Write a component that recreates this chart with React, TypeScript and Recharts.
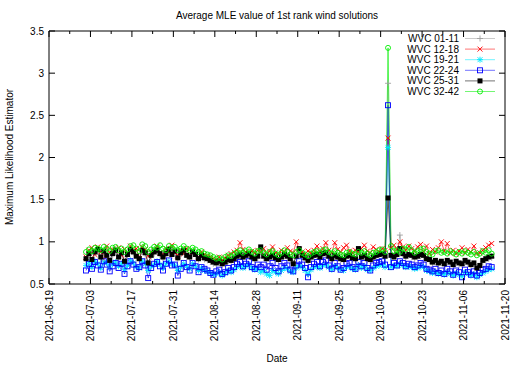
import { LineChart, Line, XAxis, YAxis, ReferenceArea } from "recharts"

// day 0 = 2021-06-19, samples are daily (noon) from 2021-07-01
const START = Date.UTC(2021, 5, 19)
const FIRST_DAY = 12.5

const X_TICKS = [0, 7, 14, 21, 28, 35, 42, 49, 56, 63, 70, 77, 84, 91, 98, 105, 112, 119, 126, 133, 140, 147, 154]
const Y_TICKS = [0.5, 1, 1.5, 2, 2.5, 3, 3.5]

const wvc0111 = [
  0.79, 0.84, 0.78, 0.86, 0.88, 0.80, 0.87, 0.82, 0.77, 0.84,
  0.88, 0.80, 0.85, 0.76, 0.83, 0.89, 0.86, 0.81, 0.79, 0.88,
  0.85, 0.74, 0.82, 0.86, 0.88, 0.84, 0.80, 0.84, 0.89, 0.83,
  0.87, 0.80, 0.85, 0.88, 0.82, 0.81, 0.86, 0.83, 0.79, 0.82,
  0.79, 0.78, 0.76, 0.74, 0.73, 0.75, 0.72, 0.74, 0.77, 0.76,
  0.78, 0.81, 0.83, 0.80, 0.82, 0.84, 0.80, 0.78, 0.81, 0.88,
  0.81, 0.78, 0.80, 0.82, 0.79, 0.77, 0.80, 0.83, 0.81, 0.78,
  0.75, 0.81, 0.88, 0.82, 0.79, 0.76, 0.80, 0.82, 0.83, 0.80,
  0.84, 0.85, 0.81, 0.78, 0.82, 0.80, 0.78, 0.77, 0.81, 0.82,
  0.79, 0.78, 0.88, 0.80, 0.82, 0.78, 0.77, 0.80, 0.82, 0.83,
  0.84, 0.81, 2.88, 0.86, 0.83, 0.84, 1.08, 0.85, 0.82, 0.84,
  0.82, 0.80, 0.81, 0.83, 0.82, 0.78, 0.77, 0.74, 0.76, 0.73,
  0.75, 0.72, 0.76, 0.74, 0.71, 0.75, 0.73, 0.72, 0.76, 0.74,
  0.71, 0.73, 0.68, 0.70, 0.76, 0.78, 0.80, 0.81,
]

const wvc1218 = [
  0.82, 0.90, 0.93, 0.85, 0.94, 0.88, 0.79, 0.95, 0.87, 0.91,
  0.89, 0.93, 0.84, 0.91, 0.86, 0.95, 0.90, 0.92, 0.80, 0.94,
  0.91, 0.83, 0.88, 0.90, 0.95, 0.87, 0.85, 0.92, 0.88, 0.96,
  0.87, 0.84, 0.90, 0.86, 0.92, 0.83, 0.89, 0.85, 0.82, 0.88,
  0.85, 0.83, 0.82, 0.80, 0.79, 0.82, 0.78, 0.81, 0.84, 0.86,
  0.88, 0.90, 0.99, 0.91, 0.88, 0.86, 0.89, 0.87, 0.90, 0.88,
  0.92, 0.86, 0.89, 0.94, 0.87, 0.85, 0.90, 0.88, 0.93, 0.89,
  0.87, 1.00, 0.91, 0.88, 0.86, 0.89, 0.87, 0.90, 0.95, 0.88,
  0.92, 0.99, 0.90, 0.87, 0.99, 0.91, 0.88, 0.93, 0.96, 0.89,
  0.87, 0.90, 0.88, 0.92, 0.96, 0.89, 0.87, 0.94, 0.91, 0.88,
  0.92, 0.90, 2.23, 0.93, 0.96, 0.91, 1.00, 0.94, 0.90, 0.95,
  0.92, 0.89, 0.94, 0.97, 0.88, 0.95, 0.86, 0.91, 0.88, 0.93,
  1.00, 0.89, 0.98, 0.87, 0.90, 0.86, 0.89, 0.93, 0.87, 0.91,
  0.88, 0.95, 0.86, 0.87, 0.90, 0.93, 0.96, 0.98,
]

const wvc1921 = [
  0.72, 0.76, 0.70, 0.77, 0.74, 0.69, 0.76, 0.75, 0.70, 0.74,
  0.76, 0.71, 0.74, 0.67, 0.72, 0.78, 0.75, 0.70, 0.69, 0.77,
  0.74, 0.66, 0.71, 0.73, 0.77, 0.73, 0.69, 0.74, 0.77, 0.74,
  0.72, 0.66, 0.70, 0.74, 0.71, 0.68, 0.74, 0.71, 0.66, 0.69,
  0.66, 0.65, 0.63, 0.61, 0.62, 0.64, 0.60, 0.63, 0.66, 0.64,
  0.67, 0.70, 0.72, 0.69, 0.71, 0.73, 0.69, 0.67, 0.68, 0.64,
  0.66, 0.62, 0.60, 0.66, 0.64, 0.62, 0.66, 0.69, 0.68, 0.65,
  0.64, 0.69, 0.72, 0.70, 0.66, 0.62, 0.67, 0.70, 0.71, 0.69,
  0.72, 0.73, 0.70, 0.67, 0.71, 0.69, 0.67, 0.66, 0.70, 0.71,
  0.68, 0.67, 0.72, 0.69, 0.71, 0.67, 0.66, 0.69, 0.71, 0.72,
  0.73, 0.70, 2.12, 0.70, 0.72, 0.71, 0.74, 0.72, 0.70, 0.71,
  0.70, 0.68, 0.69, 0.71, 0.70, 0.66, 0.65, 0.63, 0.64, 0.62,
  0.63, 0.61, 0.64, 0.62, 0.60, 0.63, 0.61, 0.59, 0.64, 0.62,
  0.60, 0.62, 0.58, 0.61, 0.63, 0.65, 0.67, 0.68,
]

const wvc2224 = [
  0.66, 0.74, 0.68, 0.76, 0.72, 0.67, 0.77, 0.73, 0.65, 0.71,
  0.75, 0.69, 0.74, 0.62, 0.71, 0.77, 0.73, 0.68, 0.70, 0.77,
  0.72, 0.57, 0.69, 0.74, 0.76, 0.71, 0.66, 0.74, 0.78, 0.72,
  0.73, 0.60, 0.68, 0.75, 0.70, 0.66, 0.75, 0.71, 0.64, 0.70,
  0.68, 0.66, 0.63, 0.61, 0.65, 0.67, 0.62, 0.64, 0.69, 0.66,
  0.70, 0.74, 0.76, 0.71, 0.74, 0.77, 0.70, 0.68, 0.73, 0.70,
  0.73, 0.67, 0.71, 0.75, 0.69, 0.65, 0.71, 0.75, 0.72, 0.67,
  0.65, 0.72, 0.77, 0.73, 0.69, 0.58, 0.70, 0.74, 0.76, 0.71,
  0.76, 0.78, 0.72, 0.68, 0.75, 0.71, 0.67, 0.69, 0.74, 0.75,
  0.70, 0.68, 0.76, 0.71, 0.75, 0.69, 0.66, 0.72, 0.75, 0.76,
  0.77, 0.73, 2.62, 0.70, 0.75, 0.72, 0.77, 0.75, 0.71, 0.74,
  0.73, 0.70, 0.72, 0.75, 0.73, 0.68, 0.67, 0.65, 0.68, 0.63,
  0.66, 0.62, 0.68, 0.65, 0.61, 0.66, 0.64, 0.58, 0.67, 0.64,
  0.61, 0.65, 0.60, 0.63, 0.67, 0.68, 0.71, 0.70,
]

const wvc2531 = [
  0.80, 0.86, 0.79, 0.88, 0.91, 0.82, 0.89, 0.84, 0.78, 0.86,
  0.90, 0.82, 0.87, 0.77, 0.85, 0.91, 0.88, 0.83, 0.80, 0.90,
  0.87, 0.75, 0.84, 0.88, 0.90, 0.86, 0.82, 0.86, 0.91, 0.85,
  0.89, 0.81, 0.87, 0.90, 0.84, 0.82, 0.88, 0.85, 0.80, 0.84,
  0.81, 0.80, 0.78, 0.76, 0.75, 0.77, 0.74, 0.76, 0.79, 0.78,
  0.80, 0.83, 0.85, 0.82, 0.84, 0.86, 0.82, 0.80, 0.83, 0.94,
  0.83, 0.80, 0.82, 0.84, 0.81, 0.79, 0.82, 0.85, 0.83, 0.80,
  0.74, 0.83, 0.92, 0.84, 0.81, 0.78, 0.82, 0.84, 0.85, 0.82,
  0.86, 0.87, 0.83, 0.80, 0.84, 0.82, 0.80, 0.79, 0.83, 0.84,
  0.81, 0.80, 0.92, 0.82, 0.84, 0.80, 0.79, 0.82, 0.84, 0.85,
  0.86, 0.83, 1.52, 0.84, 0.82, 0.85, 0.92, 0.86, 0.83, 0.85,
  0.84, 0.82, 0.83, 0.85, 0.84, 0.80, 0.79, 0.76, 0.78, 0.75,
  0.77, 0.74, 0.78, 0.76, 0.73, 0.77, 0.75, 0.74, 0.78, 0.76,
  0.73, 0.75, 0.69, 0.72, 0.78, 0.80, 0.82, 0.83,
]

const wvc3242 = [
  0.88, 0.91, 0.89, 0.93, 0.92, 0.90, 0.94, 0.92, 0.89, 0.93,
  0.94, 0.90, 0.92, 0.88, 0.91, 0.95, 0.96, 0.92, 0.89, 0.97,
  0.95, 0.88, 0.91, 0.94, 0.93, 0.96, 0.92, 0.90, 0.95, 0.93,
  0.94, 0.90, 0.92, 0.95, 0.92, 0.90, 0.93, 0.91, 0.88, 0.89,
  0.86, 0.85, 0.84, 0.82, 0.80, 0.81, 0.79, 0.82, 0.84, 0.83,
  0.86, 0.88, 0.90, 0.87, 0.89, 0.91, 0.88, 0.86, 0.89, 0.90,
  0.87, 0.85, 0.88, 0.89, 0.86, 0.84, 0.87, 0.90, 0.88, 0.85,
  0.84, 0.88, 0.90, 0.87, 0.85, 0.83, 0.86, 0.88, 0.89, 0.87,
  0.90, 0.91, 0.88, 0.86, 0.89, 0.87, 0.85, 0.84, 0.87, 0.88,
  0.86, 0.85, 0.88, 0.87, 0.89, 0.86, 0.84, 0.87, 0.88, 0.90,
  0.91, 0.88, 3.30, 0.95, 0.89, 0.90, 0.88, 0.92, 0.91, 0.94,
  0.90, 0.87, 0.89, 0.91, 0.92, 0.88, 0.86, 0.85, 0.89, 0.90,
  0.87, 0.88, 0.86, 0.89, 0.87, 0.85, 0.88, 0.86, 0.89, 0.87,
  0.85, 0.88, 0.84, 0.86, 0.89, 0.87, 0.90, 0.86,
]

const SERIES = [
  { key: "wvc0111", name: "WVC 01-11", color: "#a0a0a0", shape: "plus", values: wvc0111 },
  { key: "wvc1218", name: "WVC 12-18", color: "#ff0000", shape: "cross", values: wvc1218 },
  { key: "wvc1921", name: "WVC 19-21", color: "#00e8ff", shape: "star", values: wvc1921 },
  { key: "wvc2224", name: "WVC 22-24", color: "#0000ff", shape: "box", values: wvc2224 },
  { key: "wvc2531", name: "WVC 25-31", color: "#000000", shape: "fbox", values: wvc2531 },
  { key: "wvc3242", name: "WVC 32-42", color: "#00ee00", shape: "circle", values: wvc3242 },
]

const data = wvc0111.map((_, i) => {
  const row: Record<string, number> = { day: FIRST_DAY + i }
  SERIES.forEach((s) => (row[s.key] = s.values[i]))
  return row
})

const FONT = "'Liberation Sans', Arial, sans-serif"
const PLOT_LEFT = 49
const PLOT_RIGHT = 505
const PLOT_TOP = 31
const PLOT_BOTTOM = 284

const dateLabel = (day: number) =>
  new Date(START + day * 86400000).toISOString().slice(0, 10)

function Marker({ shape, color, cx, cy }: any) {
  const s = 2.5
  if (cx == null || cy == null) return null
  const w = 0.9
  switch (shape) {
    case "plus":
      return (
        <g stroke={color} strokeWidth={w}>
          <line x1={cx - 3} y1={cy} x2={cx + 3} y2={cy} />
          <line x1={cx} y1={cy - 3} x2={cx} y2={cy + 3} />
        </g>
      )
    case "cross":
      return (
        <g stroke={color} strokeWidth={w}>
          <line x1={cx - s} y1={cy - s} x2={cx + s} y2={cy + s} />
          <line x1={cx - s} y1={cy + s} x2={cx + s} y2={cy - s} />
        </g>
      )
    case "star":
      return (
        <g stroke={color} strokeWidth={w}>
          <line x1={cx - 3} y1={cy} x2={cx + 3} y2={cy} />
          <line x1={cx} y1={cy - 3} x2={cx} y2={cy + 3} />
          <line x1={cx - s} y1={cy - s} x2={cx + s} y2={cy + s} />
          <line x1={cx - s} y1={cy + s} x2={cx + s} y2={cy - s} />
        </g>
      )
    case "box":
      return <rect x={cx - s} y={cy - s} width={2 * s} height={2 * s} fill="none" stroke={color} strokeWidth={w} />
    case "fbox":
      return <rect x={cx - s} y={cy - s} width={2 * s} height={2 * s} fill={color} />
    default:
      return <circle cx={cx} cy={cy} r={s} fill="none" stroke={color} strokeWidth={w} />
  }
}

const makeDot = (shape: string, color: string, key: string) => (props: any) =>
  <Marker key={`${key}-${props.index}`} shape={shape} color={color} cx={props.cx} cy={props.cy} />

function XTick({ x, y, payload }: any) {
  const v = payload.value as number
  const major = v % 14 === 0
  const len = major ? 6 : 3
  return (
    <g>
      <line x1={x} y1={PLOT_BOTTOM} x2={x} y2={PLOT_BOTTOM - len} stroke="#000" />
      <line x1={x} y1={PLOT_TOP} x2={x} y2={PLOT_TOP + len} stroke="#000" />
      {major && (
        <text
          x={x + 3.5}
          y={y}
          transform={`rotate(-90, ${x + 3.5}, ${y})`}
          textAnchor="end"
          fontSize={10}
          fontFamily={FONT}
          fill="#000"
        >
          {dateLabel(v)}
        </text>
      )}
    </g>
  )
}

function YTick({ x, y, payload }: any) {
  return (
    <g>
      <line x1={PLOT_LEFT} y1={y} x2={PLOT_LEFT + 6} y2={y} stroke="#000" />
      <line x1={PLOT_RIGHT} y1={y} x2={PLOT_RIGHT - 6} y2={y} stroke="#000" />
      <text x={x} y={y + 3.5} textAnchor="end" fontSize={10} fontFamily={FONT} fill="#000">
        {String(payload.value)}
      </text>
    </g>
  )
}

function Overlay() {
  return (
    <svg
      width={525}
      height={367}
      style={{ position: "absolute", left: 0, top: 0, pointerEvents: "none" }}
      fontFamily={FONT}
      fontSize={10}
    >
      <text x={277} y={18.5} textAnchor="middle">Average MLE value of 1st rank wind solutions</text>
      <text x={277} y={362} textAnchor="middle">Date</text>
      <text x={12.5} y={157} textAnchor="middle" transform="rotate(-90, 12.5, 157)">
        Maximum Likelihood Estimator
      </text>
      {SERIES.map((s, i) => {
        const cy = 38.5 + i * 10.6
        return (
          <g key={s.key}>
            <text x={459} y={cy + 3.5} textAnchor="end">{s.name}</text>
            <line x1={465} y1={cy} x2={495} y2={cy} stroke={s.color} strokeWidth={1} strokeOpacity={0.55} />
            <Marker shape={s.shape} color={s.color} cx={480} cy={cy} />
          </g>
        )
      })}
    </svg>
  )
}

export default function App() {
  return (
    <div style={{ position: "relative", width: 525, height: 367, background: "#fff", fontFamily: FONT }}>
      <style>{"body{margin:0}"}</style>
      <LineChart width={525} height={367} data={data} margin={{ top: 31, right: 20, bottom: 0, left: 0 }}>
        <XAxis
          dataKey="day"
          type="number"
          domain={[0, 154]}
          ticks={X_TICKS}
          height={83}
          tickSize={0}
          tickMargin={6}
          tickLine={false}
          axisLine={false}
          tick={<XTick />}
          interval={0}
        />
        <YAxis
          type="number"
          domain={[0.5, 3.5]}
          ticks={Y_TICKS}
          width={49}
          tickSize={0}
          tickMargin={5}
          tickLine={false}
          axisLine={false}
          tick={<YTick />}
          interval={0}
        />
        <ReferenceArea x1={0} x2={154} y1={0.5} y2={3.5} fill="none" stroke="#000" strokeWidth={1} />
        {SERIES.map((s) => (
          <Line
            key={s.key}
            dataKey={s.key}
            name={s.name}
            type="linear"
            stroke={s.color}
            strokeWidth={1}
            strokeOpacity={0.65}
            dot={makeDot(s.shape, s.color, s.key)}
            activeDot={false}
            isAnimationActive={false}
          />
        ))}
      </LineChart>
      <Overlay />
    </div>
  )
}
